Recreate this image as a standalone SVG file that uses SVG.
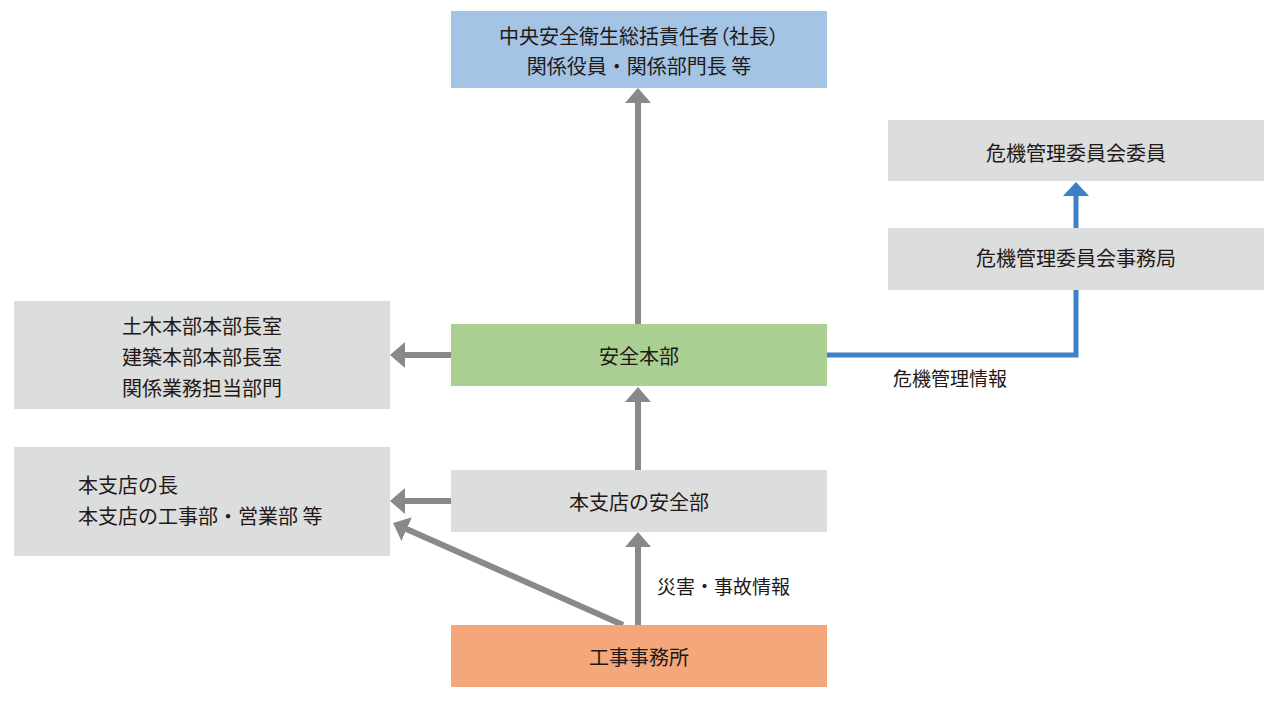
<svg xmlns="http://www.w3.org/2000/svg" width="1280" height="701" viewBox="0 0 1280 701">
<defs>
<style>
.box-gray{fill:#dcdddd}
.t{font-family:"Noto Sans CJK JP","Noto Sans CJK SC",sans-serif;font-size:20px;fill:#231815;dominant-baseline:central}
.l{font-size:19px}
.c{text-anchor:middle}
.p{font-feature-settings:"palt" 1}
.g{stroke:#898989;stroke-width:6;fill:none}
.b{stroke:#3c80c6;stroke-width:5;fill:none}
</style>
<marker id="ag" markerUnits="userSpaceOnUse" markerWidth="16" markerHeight="28" viewBox="0 -14 16 28" refX="1" refY="0" orient="auto">
<path d="M0,-13 L15,0 L0,13 z" fill="#898989"/>
</marker>
<marker id="ab" markerUnits="userSpaceOnUse" markerWidth="16" markerHeight="28" viewBox="0 -14 16 28" refX="1" refY="0" orient="auto">
<path d="M0,-13 L14,0 L0,13 z" fill="#3c80c6"/>
</marker>
</defs>
<rect width="1280" height="701" fill="#ffffff"/>
<g id="connectors">
<line class="g" x1="638" y1="324" x2="638" y2="102" marker-end="url(#ag)"/>
<line class="g" x1="451" y1="355" x2="404" y2="355" marker-end="url(#ag)"/>
<line class="g" x1="638" y1="470" x2="638" y2="401" marker-end="url(#ag)"/>
<line class="g" x1="451" y1="501" x2="404" y2="501" marker-end="url(#ag)"/>
<line class="g" x1="638" y1="625" x2="638" y2="546" marker-end="url(#ag)"/>
<line class="g" x1="623" y1="625" x2="405.8" y2="528.7" marker-end="url(#ag)"/>
<path class="b" d="M827,355 H1076 V290"/>
<line class="b" x1="1076" y1="228" x2="1076" y2="195" marker-end="url(#ab)"/>
<text class="t l" x="657" y="585">災害・事故情報</text>
<text class="t l" x="893" y="377">危機管理情報</text>
</g>
<g id="top">
<rect x="451" y="11" width="376" height="77" fill="#a4c4e5"/>
<text class="t c p" x="639" y="35">中央安全衛生総括責任者（社長）</text>
<text class="t c" x="639" y="65">関係役員・関係部門長 等</text>
</g>
<g id="anzen-honbu">
<rect x="451" y="324" width="376" height="62" fill="#a9cf93"/>
<text class="t c" x="639" y="355">安全本部</text>
</g>
<g id="honshiten-anzen">
<rect class="box-gray" x="451" y="470" width="376" height="62"/>
<text class="t c" x="639" y="501">本支店の安全部</text>
</g>
<g id="koji">
<rect x="451" y="625" width="376" height="62" fill="#f3a77b"/>
<text class="t c" x="639" y="656">工事事務所</text>
</g>
<g id="honbu-left">
<rect class="box-gray" x="14" y="301" width="376" height="108"/>
<text class="t c" x="202" y="325">土木本部本部長室</text>
<text class="t c" x="202" y="356">建築本部本部長室</text>
<text class="t c" x="202" y="387">関係業務担当部門</text>
</g>
<g id="shiten-left">
<rect class="box-gray" x="14" y="447" width="376" height="109"/>
<text class="t" x="78" y="484">本支店の長</text>
<text class="t" x="78" y="515">本支店の工事部・営業部 等</text>
</g>
<g id="iin">
<rect class="box-gray" x="888" y="120" width="376" height="61"/>
<text class="t c" x="1076" y="152">危機管理委員会委員</text>
</g>
<g id="jimukyoku">
<rect class="box-gray" x="888" y="228" width="376" height="62"/>
<text class="t c" x="1076" y="257">危機管理委員会事務局</text>
</g>
</svg>
